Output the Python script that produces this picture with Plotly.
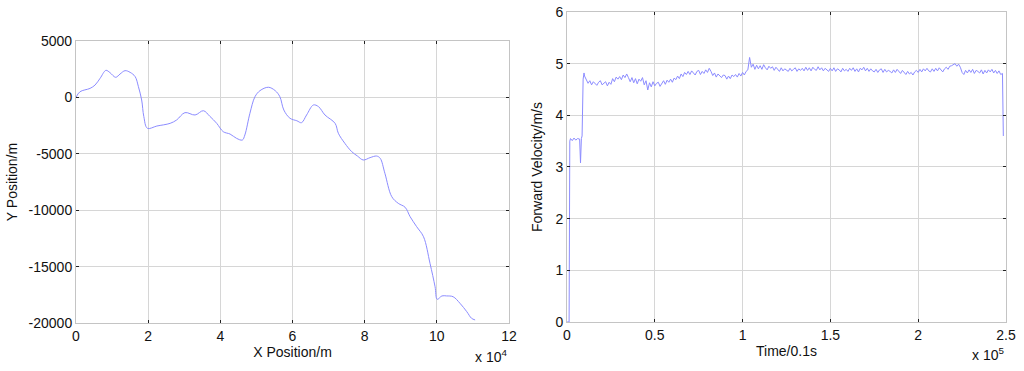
import plotly.graph_objects as go

# ---------- Left panel: trajectory (X in units of 1e4 m) ----------
x_pos = [0.00, 0.11, 0.39, 0.53, 0.67, 0.83, 0.94, 1.10, 1.22, 1.36, 1.50, 1.64, 1.73, 1.82,
         1.88, 1.98, 2.24, 2.61, 2.79, 3.02, 3.30, 3.53, 3.71, 3.90, 4.08, 4.27, 4.45, 4.61,
         4.68, 4.82, 4.96, 5.10, 5.33, 5.52, 5.65, 5.76, 5.93, 6.12, 6.25, 6.39, 6.58, 6.72,
         6.90, 7.18, 7.27, 7.45, 7.64, 7.80, 7.96, 8.15, 8.33, 8.43, 8.56, 8.75, 8.93, 9.12,
         9.26, 9.44, 9.63, 9.81, 9.95, 10.01, 10.14, 10.27, 10.45, 10.64, 10.83, 10.96, 11.06]
y_pos = [0, 500, 800, 1100, 1700, 2400, 2200, 1780, 2070, 2370, 2220, 1840, 950, -230,
         -1700, -2740, -2540, -2300, -2000, -1350, -1560, -1180, -1680, -2300, -3040, -3250, -3630, -3780,
         -3330, -1410, 60, 600, 900, 600, 60, -1120, -1850, -2070, -2240, -1560, -670, -820,
         -1560, -2300, -3180, -4070, -4810, -5200, -5550, -5340, -5200, -5400, -6730, -8800, -9390, -9740,
         -10580, -11460, -12350, -14710, -16780, -17900, -17600, -17600, -17670, -18250, -19000, -19580, -19730]

# ---------- Right panel: forward velocity (time in units of 1e5 * 0.1 s) ----------
start_time = [0.000, 0.012, 0.016, 0.020, 0.030, 0.040, 0.050, 0.060, 0.072, 0.077, 0.082, 0.086, 0.092, 0.097]
start_vel = [0.00, 0.00, 3.50, 3.55, 3.51, 3.56, 3.52, 3.55, 3.54, 3.08, 3.55, 3.60, 4.70, 4.82]

main_t0 = 0.10
main_dt = 0.01
main_vel = [
    4.76, 4.68, 4.62, 4.67, 4.59, 4.65, 4.61, 4.58, 4.64, 4.67,
    4.59, 4.62, 4.65, 4.57, 4.64, 4.60, 4.71, 4.65, 4.74, 4.70,
    4.75, 4.69, 4.78, 4.73, 4.80, 4.73, 4.65, 4.73, 4.63, 4.71,
    4.61, 4.70, 4.66, 4.73, 4.59, 4.67, 4.49, 4.63, 4.55, 4.65,
    4.57, 4.62, 4.64, 4.56, 4.63, 4.67, 4.60, 4.68, 4.64, 4.70,
    4.64, 4.72, 4.69, 4.76, 4.71, 4.80, 4.75, 4.83, 4.79, 4.85,
    4.79, 4.86, 4.82, 4.78, 4.85, 4.87, 4.79, 4.85, 4.81, 4.88,
    4.83, 4.91, 4.85, 4.77, 4.82, 4.74, 4.80, 4.76, 4.73, 4.78,
    4.77, 4.70, 4.76, 4.71, 4.78, 4.75, 4.79, 4.74, 4.81, 4.76,
    4.83, 4.78, 4.85, 4.88, 5.12, 4.93, 4.99, 4.89, 4.97, 4.90,
    4.96, 4.89, 4.98, 4.92, 4.88, 4.95, 4.91, 4.94, 4.87, 4.93,
    4.88, 4.85, 4.92, 4.86, 4.90, 4.88, 4.85, 4.91, 4.86, 4.89,
    4.92, 4.85, 4.90, 4.87, 4.91, 4.86, 4.93, 4.87, 4.92, 4.86,
    4.93, 4.89, 4.87, 4.94, 4.88, 4.92, 4.86, 4.91, 4.87, 4.85,
    4.91, 4.86, 4.92, 4.85, 4.90, 4.88, 4.84, 4.91, 4.86, 4.89,
    4.85, 4.91, 4.87, 4.92, 4.85, 4.90, 4.84, 4.91, 4.88, 4.93,
    4.86, 4.91, 4.85, 4.90, 4.86, 4.84, 4.89, 4.83, 4.88, 4.90,
    4.83, 4.89, 4.84, 4.87, 4.85, 4.82, 4.88, 4.83, 4.89, 4.84,
    4.81, 4.87, 4.82, 4.79, 4.85, 4.80, 4.83, 4.78, 4.84, 4.87,
    4.83, 4.89, 4.84, 4.90, 4.86, 4.91, 4.86, 4.84, 4.90, 4.85,
    4.91, 4.86, 4.92, 4.87, 4.84, 4.90, 4.93, 4.89, 4.95, 4.96,
    4.98, 5.00, 4.95, 4.99, 4.93, 4.83, 4.79, 4.87, 4.82, 4.88,
    4.83, 4.89, 4.81, 4.87, 4.85, 4.82, 4.88, 4.80, 4.87, 4.82,
    4.88, 4.84, 4.89, 4.82, 4.87, 4.81, 4.86, 4.79, 4.81,
]
end_time = [2.485]
end_vel = [3.60]

main_time = [round(main_t0 + i * main_dt, 4) for i in range(len(main_vel))]
vel_time = start_time + main_time + end_time
velocity = start_vel + main_vel + end_vel

left_xticks = [0, 2, 4, 6, 8, 10, 12]
left_yticks = [-20000, -15000, -10000, -5000, 0, 5000]
left_ylabels = ["-20000", "-15000", "-10000", "-5000", "0", "5000"]
right_xticks = [0, 0.5, 1, 1.5, 2, 2.5]
right_xlabels = ["0", "0.5", "1", "1.5", "2", "2.5"]
right_yticks = [0, 1, 2, 3, 4, 5, 6]

LINE = "rgb(140,140,255)"
FONT = "Liberation Sans, Arial, sans-serif"

fig = go.Figure()
fig.add_trace(go.Scatter(x=x_pos, y=y_pos, mode="lines", line=dict(color=LINE, width=1),
                         line_shape="spline", xaxis="x", yaxis="y", showlegend=False))
fig.add_trace(go.Scatter(x=vel_time, y=velocity, mode="lines", line=dict(color=LINE, width=1),
                         xaxis="x2", yaxis="y2", showlegend=False))

axis_common = dict(showgrid=True, gridcolor="#d6d6d6", gridwidth=1, showline=True,
                   linecolor="#c4c4c4", linewidth=1, mirror="ticks", ticks="inside",
                   ticklen=3, tickcolor="#222", zeroline=False, automargin=False,
                   tickfont=dict(family=FONT, size=14, color="#111"))

fig.update_layout(
    width=1024, height=371,
    margin=dict(l=0, r=0, t=0, b=0),
    paper_bgcolor="white", plot_bgcolor="white",
    font=dict(family=FONT, color="#111"),
    xaxis=dict(domain=[0.0742, 0.4971], range=[0, 12], tickvals=left_xticks,
               title=dict(text="X Position/m", font=dict(size=14), standoff=4),
               anchor="y", **axis_common),
    yaxis=dict(domain=[0.1294, 0.8895], range=[-20000, 5000], tickvals=left_yticks,
               ticktext=left_ylabels,
               title=dict(text="Y Position/m", font=dict(size=14), standoff=7),
               anchor="x", **axis_common),
    xaxis2=dict(domain=[0.5537, 0.9824], range=[0, 2.5], tickvals=right_xticks,
                ticktext=right_xlabels,
                title=dict(text="Time/0.1s", font=dict(size=14), standoff=4),
                anchor="y2", **axis_common),
    yaxis2=dict(domain=[0.1321, 0.9677], range=[0, 6], tickvals=right_yticks,
                title=dict(text="Forward Velocity/m/s", font=dict(size=14), standoff=9),
                anchor="x2", **axis_common),
    annotations=[
        dict(text="x 10<sup>4</sup>", x=0.4971, y=0.01, xref="paper", yref="paper",
             xanchor="right", yanchor="bottom", showarrow=False, font=dict(family=FONT, size=14)),
        dict(text="x 10<sup>5</sup>", x=0.9824, y=0.015, xref="paper", yref="paper",
             xanchor="right", yanchor="bottom", showarrow=False, font=dict(family=FONT, size=14)),
    ],
)

fig.write_html("out.html", config={"displayModeBar": False},
               post_script="document.body.style.margin='0';document.body.style.overflow='hidden';")
